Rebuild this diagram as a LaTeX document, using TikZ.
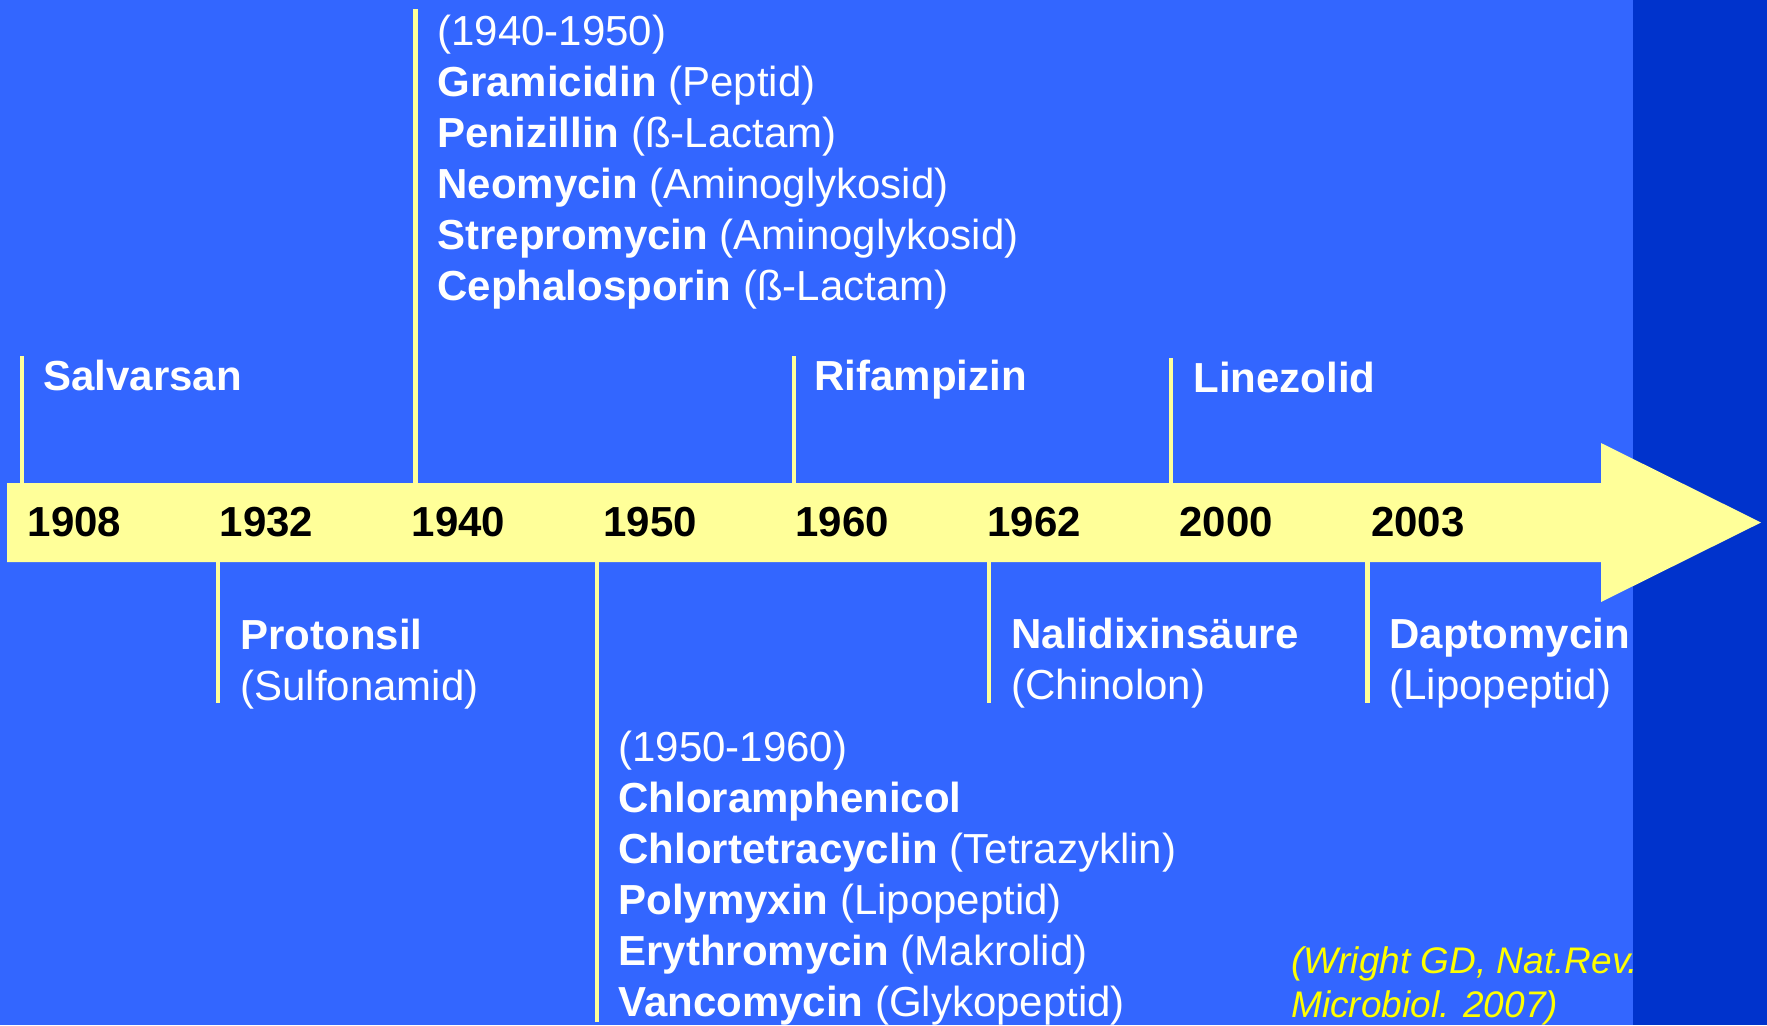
\documentclass[tikz,border=0pt]{standalone}
\usepackage{fontspec}
\setmainfont{Liberation Sans}
\usetikzlibrary{positioning}
\definecolor{tlBlue}{HTML}{3366FF}
\definecolor{tlDark}{HTML}{0033CC}
\definecolor{tlPale}{HTML}{FFFF99}
\definecolor{tlRef}{HTML}{FFFF00}
\begin{document}
\begin{tikzpicture}[x=0.5pt,y=-0.5pt,
  yearline/.style={tlPale,line width=2.3pt},
  yearlabel/.style={anchor=base west,inner sep=0pt,font=\bfseries\fontsize{21}{25}\selectfont},
  drug/.style={anchor=base west,inner sep=0pt,text=white,align=left,font=\fontsize{21}{25.5}\selectfont}]
\useasboundingbox (0,0) rectangle (1767,1025);
% background
\fill[tlBlue] (0,0) rectangle (1767,1025);
\fill[tlDark] (1633,0) rectangle (1767,1025);
% time arrow
\fill[tlPale] (7,483) -- (1601,483) -- (1601,443) -- (1761,522.5) -- (1601,602) -- (1601,562) -- (7,562) -- cycle;
\foreach \x/\a/\b in {22/356/483,218/562/703,415.6/9/483,597/562/1022,794/356/483,989/562/703,1171/358/483,1367.5/562/703}
  \draw[yearline] (\x,\a) -- (\x,\b);
\foreach \yr [count=\i from 0] in {1908,1932,1940,1950,1960,1962,2000,2003}
  \node[yearlabel] (y\yr) at (27.5+191.9*\i,536) {\yr};
% above the arrow (multi-line nodes sit on their last line)
\node[drug] (salvarsan) at (43,390) {\textbf{Salvarsan}};
\node[drug] (g1940) at (437,300) {(1940-1950)\\\textbf{Gramicidin} (Peptid)\\\textbf{Penizillin} (ß-Lactam)\\\textbf{Neomycin} (Aminoglykosid)\\\textbf{Strepromycin} (Aminoglykosid)\\\textbf{Cephalosporin} (ß-Lactam)};
\node[drug] (rifampizin) at (814,390) {\textbf{Rifampizin}};
\node[drug] (linezolid) at (1193,392) {\textbf{Linezolid}};
% below the arrow
\node[drug] (protonsil) at (240,700) {\textbf{Protonsil}\\(Sulfonamid)};
\node[drug] (g1950) at (618,1016) {(1950-1960)\\\textbf{Chloramphenicol}\\\textbf{Chlortetracyclin} (Tetrazyklin)\\\textbf{Polymyxin} (Lipopeptid)\\\textbf{Erythromycin} (Makrolid)\\\textbf{Vancomycin} (Glykopeptid)};
\node[drug] (nalidixin) at (1011,699) {\textbf{Nalidixinsäure}\\(Chinolon)};
\node[drug] (daptomycin) at (1389,699) {\textbf{Daptomycin}\\(Lipopeptid)};
\node[anchor=base west,inner sep=0pt,align=left,text=tlRef,font=\itshape\fontsize{18.5}{22}\selectfont] (wright) at (1291,1017) {(Wright GD, Nat.Rev.\\Microbiol. 2007)};
\end{tikzpicture}
\end{document}
